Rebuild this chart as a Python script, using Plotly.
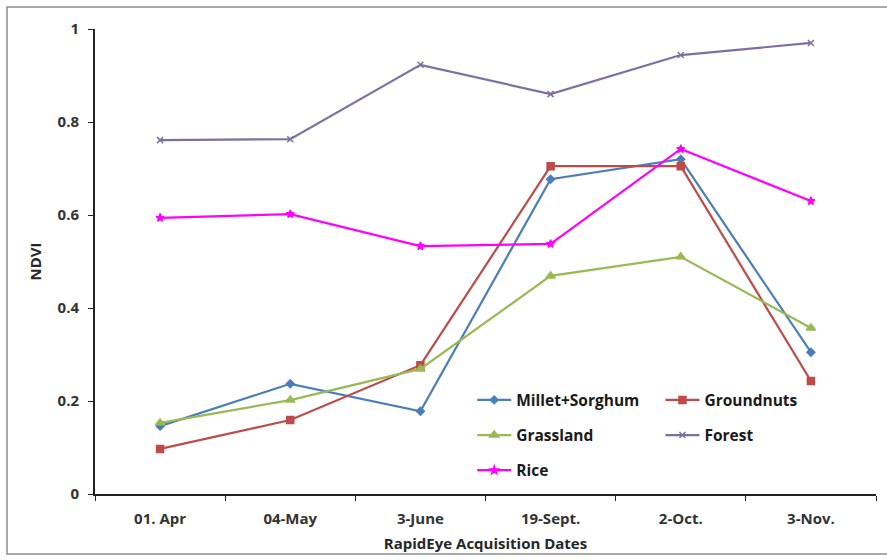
import plotly.graph_objects as go

# Acquisition dates (x categories)
dates = ["01. Apr", "04-May", "3-June", "19-Sept.", "2-Oct.", "3-Nov."]

# Mean NDVI per land-cover class
millet_sorghum = [0.146, 0.237, 0.178, 0.677, 0.720, 0.305]
groundnuts = [0.097, 0.159, 0.277, 0.705, 0.705, 0.243]
grassland = [0.153, 0.202, 0.269, 0.469, 0.510, 0.357]
forest = [0.761, 0.763, 0.923, 0.860, 0.944, 0.970]
rice = [0.594, 0.602, 0.533, 0.538, 0.742, 0.630]

y_ticks = [0, 0.2, 0.4, 0.6, 0.8, 1]
y_tick_text = ["0", "0.2", "0.4", "0.6", "0.8", "1"]

FONT = "Open Sans"

series = [
    ("Millet+Sorghum", millet_sorghum, "#4A7EBB", "diamond", 6, "legend"),
    ("Groundnuts", groundnuts, "#BE4B48", "square", 7, "legend2"),
    ("Grassland", grassland, "#98B954", "triangle-up", 8, "legend"),
    ("Forest", forest, "#7D6FA3", "x-thin-open", 6, "legend2"),
    ("Rice", rice, "#FF00FF", "star", 6, "legend"),
]

fig = go.Figure()
for name, vals, color, symbol, size, lg in series:
    fig.add_trace(go.Scatter(
        x=dates, y=vals, name=name, mode="lines+markers",
        line=dict(color=color, width=2.2),
        marker=dict(symbol=symbol, size=size, color=color,
                    line=dict(color=color, width=1.5)),
        legend=lg, legendgroup=name,
    ))

legend_common = dict(
    orientation="v", bgcolor="rgba(0,0,0,0)",
    font=dict(family=FONT, size=15.5, color="#1a1a1a", weight="bold"),
    tracegroupgap=12, xanchor="left", yanchor="top",
    itemwidth=34,
)

tick_font = dict(family=FONT, size=15, color="#333333", weight="bold")
title_font = dict(family=FONT, size=15, color="#262626", weight="bold")

fig.update_layout(
    width=887, height=560,
    margin=dict(l=95, r=11, t=29, b=66),
    paper_bgcolor="white", plot_bgcolor="white",
    showlegend=True,
    legend=dict(x=0.483, y=0.238, **legend_common),
    legend2=dict(x=0.724, y=0.238, **legend_common),
    xaxis=dict(
        type="category", showgrid=False, showline=True,
        linecolor="#222222", linewidth=2,
        ticks="outside", tickson="boundaries", ticklen=5,
        tickcolor="#222222", tickwidth=1,
        tickfont=tick_font, ticklabelstandoff=10,
        title=dict(text="RapidEye Acquisition Dates", standoff=11,
                   font=title_font),
        range=[-0.5, 5.5], zeroline=False, automargin=False,
    ),
    yaxis=dict(
        range=[0, 1], tickvals=y_ticks, ticktext=y_tick_text,
        showgrid=False, showline=True, linecolor="#222222", linewidth=2,
        ticks="outside", ticklen=5, tickcolor="#222222", tickwidth=1,
        tickfont=tick_font, ticklabelstandoff=6,
        title=dict(text="NDVI", standoff=12, font=title_font),
        zeroline=False, automargin=False,
    ),
    shapes=[dict(
        type="rect", xref="paper", yref="paper",
        x0=(7 - 95) / 781, x1=(890 - 95) / 781,
        y0=(494 - 554) / 465, y1=(494 - 7) / 465,
        line=dict(color="#8c8c8c", width=1.5), layer="below",
    )],
)

fig.write_html("out.html")
